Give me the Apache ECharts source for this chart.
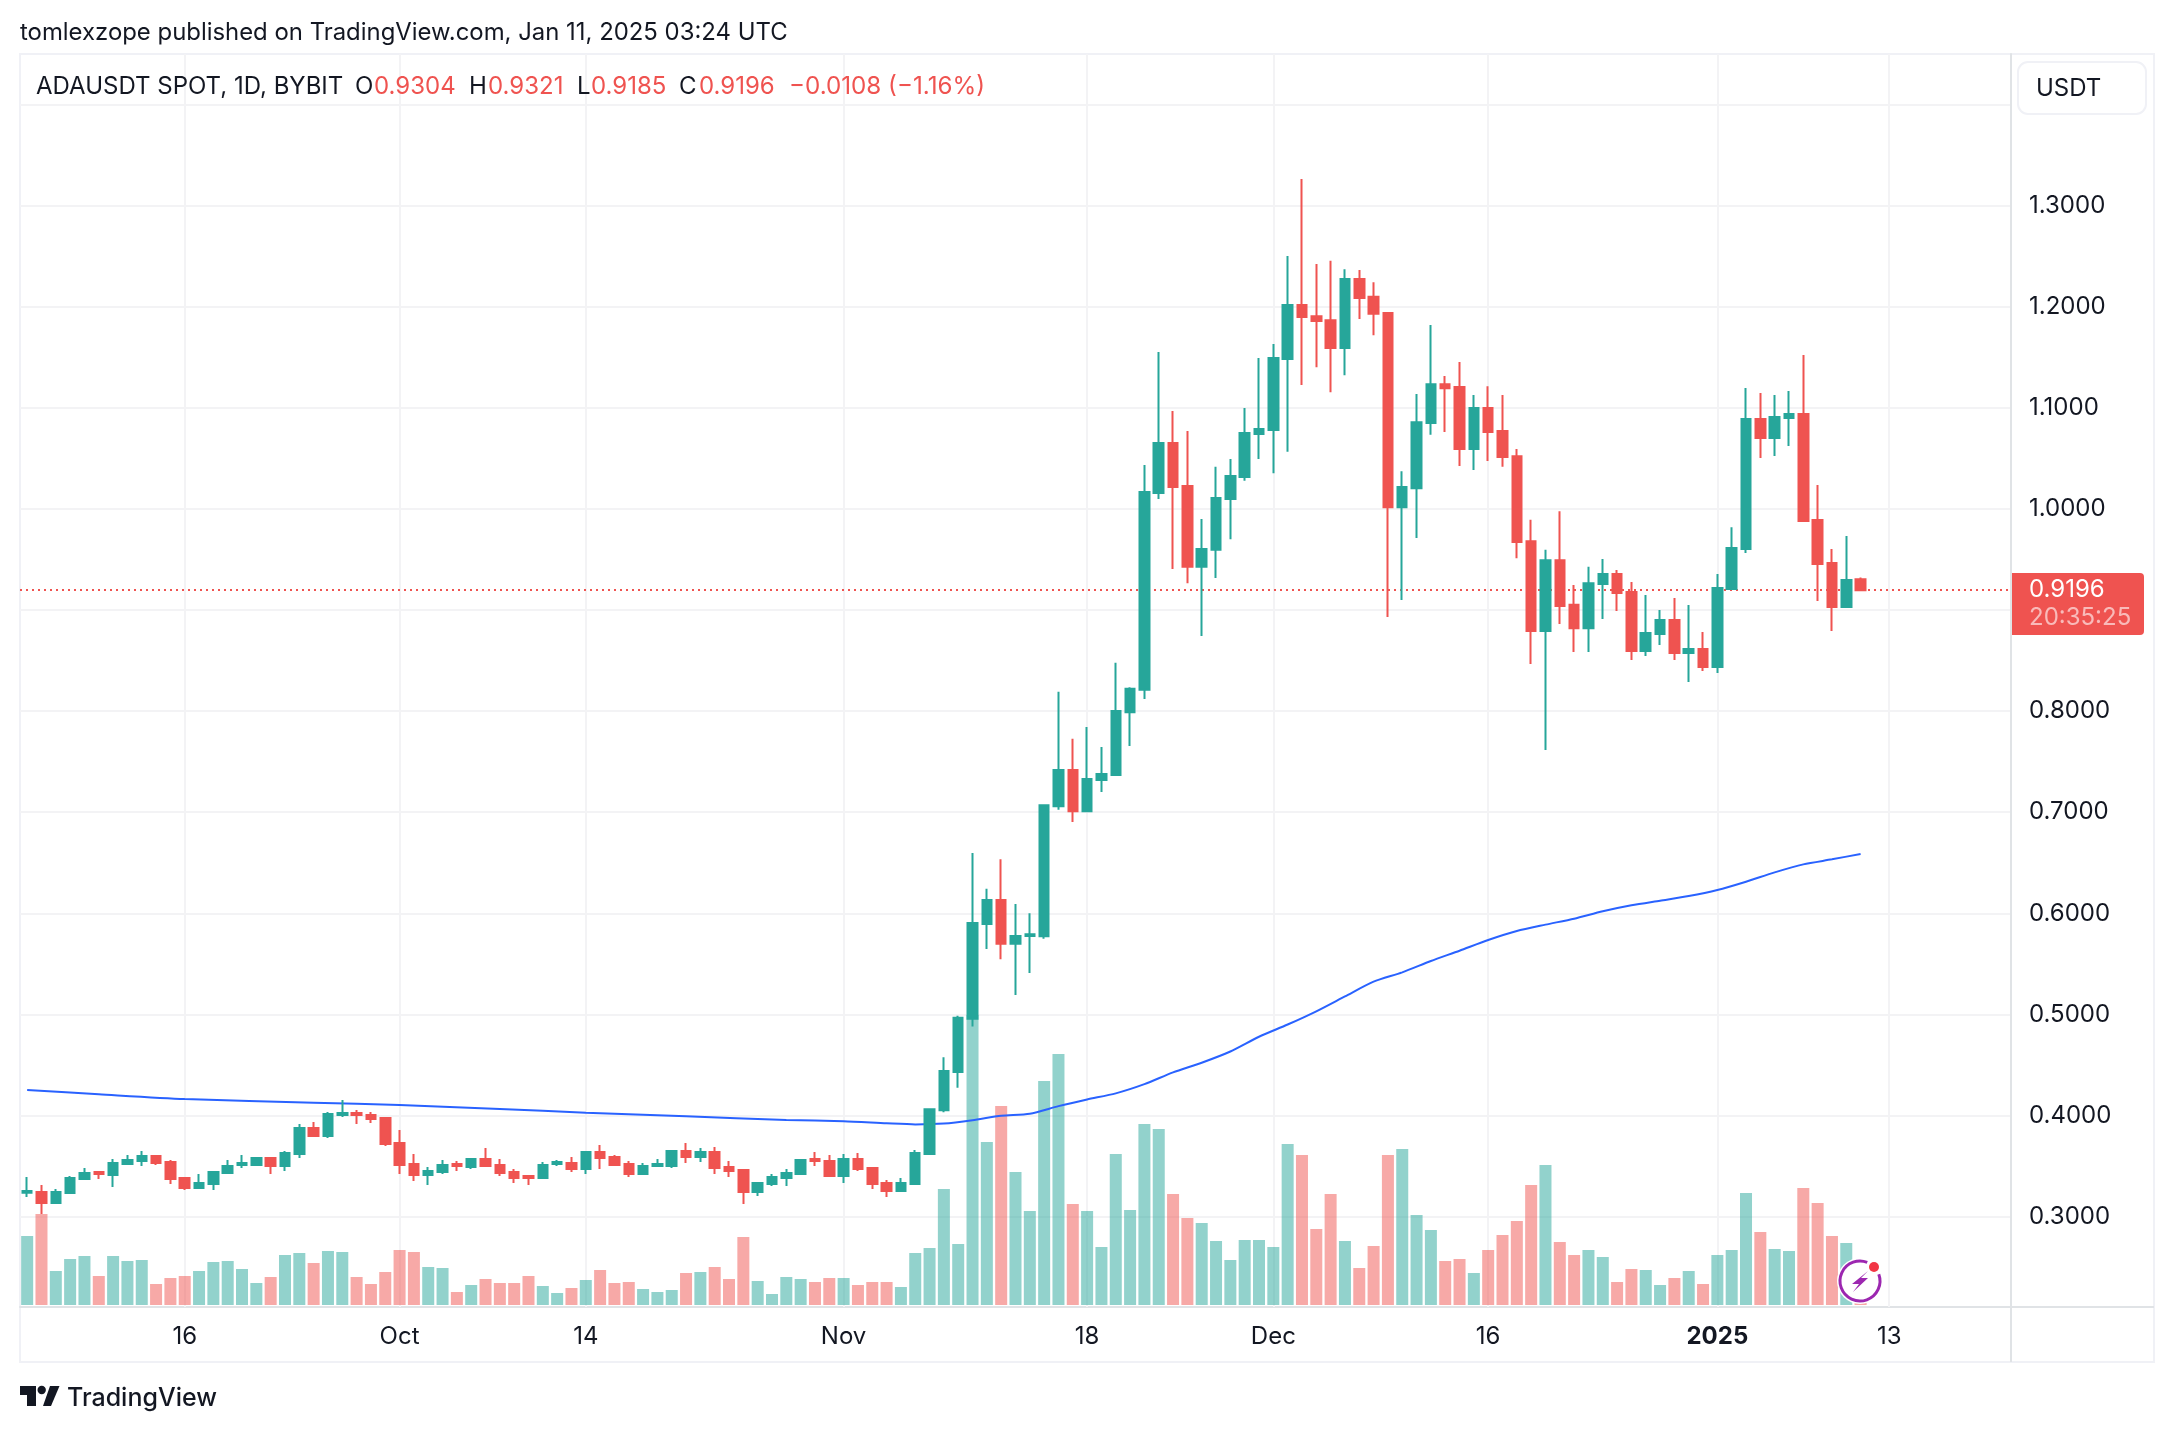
<!DOCTYPE html>
<html>
<head>
<meta charset="utf-8">
<title>ADAUSDT SPOT, 1D, BYBIT</title>
<script src="https://cdn.jsdelivr.net/npm/echarts@6/dist/echarts.min.js"></script>
<style>
    html, body { margin: 0; padding: 0; background: #fff; }
    #main { width: 2174px; height: 1432px; }
</style>
</head>
<body>
<div id="main"></div>
<script>
// daily candles, first one is 2024-09-05
var opens = [.3237, .3244, .3135, .3234, .3372, .3441, .3412, .3521, .3550, .3600,
    .3540, .3382, .3283, .3323, .3432, .3511, .3511, .3580, .3501, .3619,
    .3877, .3797, .4005, .4025, .4005, .3976, .3728, .3521, .3412, .3441,
    .3521, .3491, .3570, .3511, .3441, .3402, .3382, .3521, .3530, .3471,
    .3639, .3590, .3521, .3422, .3501, .3501, .3649, .3590, .3639, .3491,
    .3461, .3244, .3323, .3382, .3422, .3570, .3550, .3402, .3570, .3481,
    .3333, .3253, .3323, .3618, .4053, .4431, .4956, .5894, .6132, .5698,
    .5775, .5773, .7060, .7418, .7010, .7318, .7368, .7989, .8211, 1.0158,
    1.0652, 1.0227, .9427, .9595, 1.0099, 1.0315, 1.0741, 1.0780, 1.1484, 1.2016,
    1.1906, 1.1867, 1.1593, 1.2274, 1.2098, 1.1937, 1.0017, 1.0205, 1.0850, 1.1233,
    1.1206, 1.0592, 1.0999, 1.0772, 1.0522, .9681, .8793, .9493, .9051, .8820,
    .9257, .9356, .9178, .8594, .8762, .8901, .8574, .8614, .8436, .9207,
    .9603, 1.0889, 1.0701, 1.0899, 1.0938, .9890, .9464, .9029, .9304];
var highs = [.3392, .3313, .3273, .3402, .3481, .3441, .3570, .3610, .3649, .3610,
    .3560, .3382, .3422, .3441, .3560, .3610, .3590, .3590, .3649, .3916,
    .3936, .4035, .4154, .4055, .4035, .3976, .3857, .3619, .3491, .3560,
    .3550, .3580, .3679, .3570, .3471, .3412, .3540, .3560, .3590, .3649,
    .3708, .3610, .3550, .3530, .3570, .3649, .3728, .3679, .3689, .3550,
    .3471, .3342, .3422, .3471, .3570, .3639, .3610, .3619, .3629, .3481,
    .3362, .3382, .3659, .4063, .4577, .4986, .6596, .6243, .6535, .6091,
    .6000, .7070, .8191, .7726, .7842, .7646, .8478, .8236, 1.0435, 1.1552,
    1.0969, 1.0771, .9900, 1.0416, 1.0494, 1.0999, 1.1492, 1.1632, 1.2501, 1.3263,
    1.2422, 1.2454, 1.2372, 1.2364, 1.2243, 1.1937, 1.0373, 1.1136, 1.1820, 1.1316,
    1.1453, 1.1128, 1.1214, 1.1128, 1.0592, .9892, .9595, .9978, .9247, .9427,
    .9504, .9395, .9277, .9148, .9000, .9118, .9049, .8782, .9356, .9820,
    1.1195, 1.1146, 1.1126, 1.1166, 1.1522, 1.0236, .9603, .9732, .9321];
var lows = [.3194, .3026, .3135, .3234, .3372, .3372, .3293, .3521, .3501, .3511,
    .3323, .3263, .3283, .3263, .3432, .3481, .3501, .3422, .3451, .3580,
    .3788, .3778, .3985, .3916, .3926, .3699, .3422, .3352, .3313, .3422,
    .3451, .3471, .3501, .3402, .3333, .3313, .3382, .3501, .3441, .3422,
    .3471, .3501, .3392, .3422, .3491, .3481, .3530, .3540, .3422, .3392,
    .3125, .3204, .3303, .3303, .3422, .3501, .3402, .3333, .3451, .3273,
    .3194, .3253, .3323, .3609, .4032, .4275, .4880, .5647, .5546, .5193,
    .5410, .5748, .7025, .6904, .7000, .7201, .7368, .7656, .8120, 1.0098,
    .9407, .9265, .8742, .9317, .9700, 1.0279, 1.0494, 1.0354, 1.0565, 1.1226,
    1.1402, 1.1155, 1.1323, 1.1879, 1.1718, .8930, .9098, .9712, 1.0733, 1.0760,
    1.0424, 1.0385, 1.0475, 1.0416, .9513, .8465, .7616, .8863, .8586, .8586,
    .8910, .8990, .8505, .8545, .8653, .8505, .8287, .8396, .8376, .9207,
    .9563, 1.0503, 1.0523, 1.0622, .9880, .9089, .8792, .9029, .9185];
var closes = [.3253, .3135, .3244, .3382, .3432, .3422, .3530, .3560, .3600, .3530,
    .3372, .3283, .3333, .3441, .3501, .3530, .3580, .3501, .3629, .3877,
    .3797, .4015, .4025, .4005, .3966, .3718, .3511, .3412, .3451, .3511,
    .3501, .3570, .3501, .3432, .3382, .3382, .3511, .3540, .3471, .3639,
    .3580, .3511, .3422, .3501, .3521, .3649, .3590, .3639, .3481, .3451,
    .3244, .3333, .3392, .3432, .3560, .3550, .3402, .3570, .3471, .3323,
    .3253, .3333, .3629, .4063, .4441, .4966, .5904, .6132, .5698, .5775,
    .5793, .7070, .7418, .7010, .7328, .7378, .8000, .8221, 1.0168, 1.0652,
    1.0217, .9427, .9603, 1.0107, 1.0326, 1.0752, 1.0791, 1.1492, 1.2016, 1.1898,
    1.1859, 1.1593, 1.2274, 1.2086, 1.1930, 1.0017, 1.0217, 1.0858, 1.1233, 1.1194,
    1.0592, 1.0999, 1.0760, 1.0514, .9673, .8793, .9493, .9039, .8820, .9266,
    .9356, .9168, .8594, .8772, .8901, .8574, .8614, .8436, .9217, .9613,
    1.0889, 1.0701, 1.0909, 1.0938, .9880, .9455, .9029, .9296, .9196];
// volume pane, relative scale
var volumes = [69, 91, 34, 46, 49, 29, 49, 44, 45, 21,
    27, 29, 34, 43, 44, 36, 22, 28, 50, 52,
    42, 54, 53, 28, 21, 33, 55, 53, 38, 37,
    13, 20, 26, 22, 22, 29, 19, 12, 17, 25,
    35, 22, 23, 16, 13, 15, 32, 33, 38, 26,
    68, 24, 11, 28, 26, 23, 27, 27, 20, 23,
    23, 18, 52, 57, 116, 61, 290, 163, 199, 133,
    94, 224, 251, 101, 94, 58, 151, 95, 181, 176,
    111, 87, 82, 64, 45, 65, 65, 58, 161, 150,
    76, 111, 64, 37, 59, 150, 156, 90, 75, 44,
    46, 32, 55, 70, 84, 120, 140, 63, 50, 55,
    48, 23, 36, 35, 20, 27, 34, 21, 50, 55,
    112, 73, 56, 54, 117, 102, 69, 62, 2];
// blue moving average, read at these candle numbers
var maDays = [0, 5, 11, 20, 26, 33, 39, 46, 53, 57, 60, 62, 64, 66, 68, 70, 72, 74, 76, 78,
    80, 82, 84, 86, 88, 90, 92, 94, 96, 98, 100, 102, 104, 106, 108, 110, 112, 114, 116, 118,
    120, 122, 124, 126, 128];
var maValues = [.4252, .4210, .4163, .4127, .4104, .4064, .4028, .3992, .3956, .3943, .3923, .3912, .3920, .3953, .3997, .4017, .4093, .4159, .4219, .4310,
    .4426, .4522, .4633, .4779, .4900, .5031, .5178, .5324, .5416, .5528, .5630, .5736, .5825, .5888, .5947, .6020, .6079, .6125, .6171, .6231,
    .6313, .6405, .6484, .6534, .6587];
var lastPrice = 0.9196;
var lastTimer = "20:35:25";

var tickDates = ["2024-09-16", "2024-10-01", "2024-10-14", "2024-11-01", "2024-11-18", "2024-12-01", "2024-12-16", "2025-01-01", "2025-01-13"];
var tickLabels = ["16", "Oct", "14", "Nov", "18", "Dec", "16", "2025", "13"];
// 0.9 sits under the last price tag, 1.4 under the currency button
var priceTicks = [0.3, 0.4, 0.5, 0.6, 0.7, 0.8, 1.0, 1.1, 1.2, 1.3];
var gridPrices = [0.3, 0.4, 0.5, 0.6, 0.7, 0.8, 0.9, 1.0, 1.1, 1.2, 1.3, 1.4];

var upColor = "#26a69a";
var downColor = "#ef5350";
var upVolume = "rgba(38, 166, 154, 0.5)";
var downVolume = "rgba(239, 83, 80, 0.5)";
var textColor = "#131722";
var fontName = "Inter, 'Noto Sans', sans-serif";

var dates = [];
var day = new Date(Date.UTC(2024, 8, 5));
for (var i = 0; i < 139; i++) {
    dates.push(day.toISOString().substr(0, 10));
    day.setUTCDate(day.getUTCDate() + 1);
}

var candleData = [];
var volumeData = [];
for (var n = 0; n < opens.length; n++) {
    candleData.push([opens[n], closes[n], lows[n], highs[n]]);
    volumeData.push({
        value: volumes[n],
        itemStyle: { color: closes[n] >= opens[n] ? upVolume : downVolume }
    });
}
var maData = [];
for (var m = 0; m < maDays.length; m++) {
    maData.push([maDays[m], maValues[m]]);
}
var tickLines = [];
for (var t = 0; t < tickDates.length; t++) {
    tickLines.push({ xAxis: tickDates[t] });
}

function txt(text, x, y, color, size, weight) {
    return {
        type: "text",
        silent: true,
        z: 101,
        style: {
            text: text,
            x: x,
            y: y,
            fill: color,
            font: (weight || "normal") + " " + (size || 24) + "px " + fontName,
            textVerticalAlign: "middle"
        }
    };
}

function line(x1, y1, x2, y2, color) {
    return {
        type: "line",
        silent: true,
        shape: { x1: x1, y1: y1, x2: x2, y2: y2 },
        style: { stroke: color, lineWidth: 2 }
    };
}

var chart = echarts.init(document.getElementById("main"));
var option = {
    animation: false,
    backgroundColor: "#ffffff",
    grid: { left: 20, right: 163, top: 54, bottom: 125 },
    xAxis: {
        type: "category",
        data: dates,
        boundaryGap: true,
        axisLine: { onZero: false, lineStyle: { color: "#e0e3e6", width: 2 } },
        axisTick: { show: false },
        splitLine: { show: false },
        axisLabel: {
            margin: 18,
            fontFamily: fontName,
            fontSize: 24,
            color: textColor,
            interval: function (index, value) {
                return tickDates.indexOf(value) >= 0;
            },
            formatter: function (value) {
                var label = tickLabels[tickDates.indexOf(value)];
                return label == "2025" ? "{b|" + label + "}" : label;
            },
            rich: {
                b: { fontFamily: fontName, fontSize: 24, fontWeight: "bold", color: textColor }
            }
        }
    },
    yAxis: [{
        type: "value",
        position: "right",
        min: 0.21058,
        max: 1.45,
        scale: true,
        axisLine: { show: true, lineStyle: { color: "#e0e3e6", width: 2 } },
        axisTick: { show: false, customValues: gridPrices },
        splitLine: { show: true, lineStyle: { color: "#f3f3f5", width: 2 } },
        axisLabel: {
            customValues: priceTicks,
            margin: 18,
            padding: [4, 0, 0, 0],
            fontFamily: fontName,
            fontSize: 24,
            color: textColor,
            formatter: function (value) {
                return value.toFixed(4);
            }
        }
    }, {
        type: "value",
        min: -2,
        max: 1251,
        show: false,
        splitLine: { show: false }
    }],
    series: [{
        name: "Volume",
        type: "bar",
        yAxisIndex: 1,
        barWidth: 12,
        z: 2,
        data: volumeData,
        markLine: {
            silent: true,
            symbol: "none",
            z: 1,
            animation: false,
            label: { show: false },
            lineStyle: { color: "#f3f3f5", width: 2, type: "solid" },
            data: tickLines
        }
    }, {
        name: "MA",
        type: "line",
        yAxisIndex: 0,
        showSymbol: false,
        symbol: "none",
        smooth: 0.25,
        z: 3,
        lineStyle: { color: "#2962ff", width: 2 },
        data: maData,
        markLine: {
            silent: true,
            symbol: "none",
            z: 3,
            animation: false,
            label: { show: false },
            lineStyle: { color: downColor, width: 2, type: [2, 4] },
            data: [{ yAxis: lastPrice }]
        }
    }, {
        name: "ADAUSDT",
        type: "candlestick",
        yAxisIndex: 0,
        barWidth: 10,
        z: 4,
        itemStyle: {
            color: upColor,
            color0: downColor,
            borderColor: upColor,
            borderColor0: downColor,
            borderWidth: 2
        },
        data: candleData
    }],
    graphic: [
        // frame and axis panes
        {
            type: "rect",
            silent: true,
            shape: { x: 20, y: 54, width: 2134, height: 1308 },
            style: { fill: null, stroke: "#f0f1f6", lineWidth: 2 }
        },
        line(2011, 1307, 2011, 1362, "#e0e3e6"),
        line(2011, 1307, 2154, 1307, "#e0e3e6"),
        // header
        txt("tomlexzope published on TradingView.com, Jan 11, 2025 03:24 UTC", 20, 33, textColor, 23.9),
        txt("ADAUSDT SPOT, 1D, BYBIT", 36, 87, textColor),
        txt("O", 355, 87, textColor),
        txt("0.9304", 374, 87, downColor),
        txt("H", 469, 87, textColor),
        txt("0.9321", 488, 87, downColor),
        txt("L", 577, 87, textColor),
        txt("0.9185", 591, 87, downColor),
        txt("C", 679, 87, textColor),
        txt("0.9196", 699, 87, downColor),
        txt("\u22120.0108 (\u22121.16%)", 789, 87, downColor, 24.2),
        // currency button
        {
            type: "rect",
            silent: true,
            z: 100,
            shape: { x: 2018, y: 62, width: 128, height: 52, r: 10 },
            style: { fill: "#ffffff", stroke: "#f0f1f6", lineWidth: 2 }
        },
        txt("USDT", 2036, 89, textColor),
        // last price tag
        {
            type: "rect",
            silent: true,
            z: 100,
            shape: { x: 2012, y: 573, width: 132, height: 62, r: [0, 4, 4, 0] },
            style: { fill: downColor }
        },
        txt(lastPrice.toFixed(4), 2029, 590, "#ffffff"),
        txt(lastTimer, 2029, 618, "rgba(255, 255, 255, 0.6)"),
        // logo
        {
            type: "polygon",
            silent: true,
            shape: { points: [[20, 1386], [36, 1386], [36, 1406], [27, 1406], [27, 1395], [20, 1395]] },
            style: { fill: textColor }
        },
        {
            type: "circle",
            silent: true,
            shape: { cx: 41.7, cy: 1390, r: 4.2 },
            style: { fill: textColor }
        },
        {
            type: "polygon",
            silent: true,
            shape: { points: [[50, 1386], [59.5, 1386], [51, 1406], [43, 1406]] },
            style: { fill: textColor }
        },
        txt("TradingView", 67, 1398, textColor, 25, "500"),
        // lightning badge
        {
            type: "circle",
            silent: true,
            z: 100,
            shape: { cx: 1860, cy: 1281, r: 23 },
            style: { fill: "#ffffff" }
        },
        {
            type: "arc",
            silent: true,
            z: 101,
            shape: { cx: 1860, cy: 1281, r: 20, startAngle: -0.35, endAngle: -1.2, clockwise: true },
            style: { fill: null, stroke: "#9c27b0", lineWidth: 3 }
        },
        {
            type: "polygon",
            silent: true,
            z: 101,
            shape: { points: [[1868, 1271], [1852, 1284], [1859, 1284], [1853, 1292], [1868, 1278], [1861, 1278]] },
            style: { fill: "#9c27b0" }
        },
        {
            type: "circle",
            silent: true,
            z: 102,
            shape: { cx: 1874, cy: 1267, r: 5 },
            style: { fill: "#f23645" }
        }
    ]
};
chart.setOption(option);
</script>
</body>
</html>
